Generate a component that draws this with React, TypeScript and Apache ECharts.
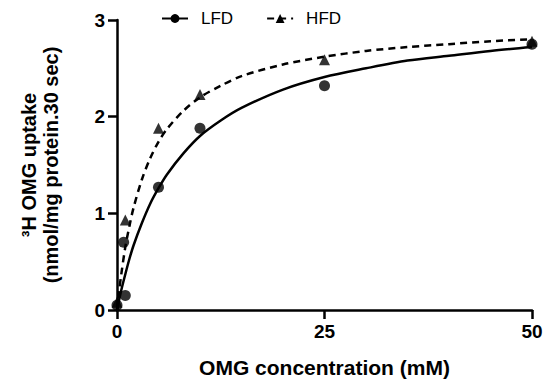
import React, { useEffect, useRef } from "react";
import * as echarts from "echarts";

const lfdPoints: [number, number][] = [
  [0, 0.05], [1, 0.15], [0.8, 0.7], [5, 1.27], [10, 1.88], [25, 2.32], [50, 2.75],
];
const hfdPoints: [number, number][] = [
  [0, 0.08], [1, 0.93], [5, 1.88], [10, 2.23], [25, 2.59], [50, 2.78],
];
// fitted curves
const curveX = [0, 0.25, 0.5, 1, 1.5, 2, 3, 4, 5, 6, 8, 10, 12.5, 15, 20, 25, 30, 35, 40, 45, 50];
const lfdCurve = [0, 0.1, 0.2, 0.37, 0.53, 0.67, 0.9, 1.1, 1.26, 1.4, 1.62, 1.8, 1.96, 2.09, 2.28, 2.41, 2.5, 2.58, 2.63, 2.68, 2.72];
const hfdCurve = [0, 0.19, 0.36, 0.65, 0.87, 1.06, 1.35, 1.57, 1.74, 1.87, 2.06, 2.2, 2.32, 2.42, 2.54, 2.62, 2.68, 2.72, 2.75, 2.78, 2.8];
const xTicks = [0, 25, 50];
const yTicks = [0, 1, 2, 3];

const FONT = "Liberation Sans, Arial, sans-serif";

export default function App() {
  const ref = useRef<HTMLDivElement>(null);
  useEffect(() => {
    document.body.style.margin = "0";
    const chart = echarts.init(ref.current!, null, { renderer: "svg" });
    const axisLine = { show: true, lineStyle: { color: "#000", width: 2.5 } };
    const tick = { show: true, length: 9, lineStyle: { color: "#000", width: 2.5 } };
    const label = { color: "#000", fontWeight: "bold", fontSize: 19, fontFamily: FONT, margin: 12 };
    chart.setOption({
      animation: false,
      backgroundColor: "#fff",
      textStyle: { fontFamily: FONT },
      grid: { left: 117, right: 18, top: 20, bottom: 82 },
      legend: {
        top: 5,
        left: 156,
        itemWidth: 26,
        itemHeight: 11,
        itemGap: 33,
        textStyle: { fontFamily: FONT, fontSize: 17, color: "#000", padding: [0, 0, 0, 8] },
        data: ["LFD", "HFD"],
      },
      xAxis: {
        type: "value",
        min: xTicks[0],
        max: xTicks[xTicks.length - 1],
        interval: 25,
        axisLine,
        axisTick: tick,
        splitLine: { show: false },
        axisLabel: label,
        name: "OMG concentration (mM)",
        nameLocation: "middle",
        nameGap: 47,
        nameTextStyle: { color: "#000", fontWeight: "bold", fontSize: 21, fontFamily: FONT },
      },
      yAxis: {
        type: "value",
        min: yTicks[0],
        max: yTicks[yTicks.length - 1],
        interval: 1,
        axisLine,
        axisTick: tick,
        splitLine: { show: false },
        axisLabel: label,
        name: "³H OMG uptake\n(nmol/mg protein.30 sec)",
        nameLocation: "middle",
        nameGap: 55,
        nameTextStyle: { color: "#000", fontWeight: "bold", fontSize: 20, lineHeight: 22, fontFamily: FONT },
      },
      series: [
        {
          name: "LFD",
          type: "line",
          smooth: 0.3,
          showSymbol: false,
          symbol: "circle",
          symbolSize: 11,
          itemStyle: { color: "#000" },
          lineStyle: { color: "#000", width: 2.5, type: "solid" },
          data: curveX.map((x, i) => [x, lfdCurve[i]]),
          z: 2,
        },
        {
          name: "HFD",
          type: "line",
          smooth: 0.3,
          showSymbol: false,
          symbol: "triangle",
          symbolSize: 11,
          itemStyle: { color: "#000" },
          lineStyle: { color: "#000", width: 2.5, type: [7, 5] },
          data: curveX.map((x, i) => [x, hfdCurve[i]]),
          z: 2,
        },
        {
          name: "LFD pts",
          type: "scatter",
          symbol: "circle",
          symbolSize: 11,
          itemStyle: { color: "#000" },
          data: lfdPoints,
          z: 3,
        },
        {
          name: "HFD pts",
          type: "scatter",
          symbol: "triangle",
          symbolSize: 11,
          itemStyle: { color: "#000" },
          data: hfdPoints,
          z: 3,
        },
      ],
    });
    return () => chart.dispose();
  }, []);
  return <div ref={ref} style={{ width: 550, height: 392 }} />;
}
